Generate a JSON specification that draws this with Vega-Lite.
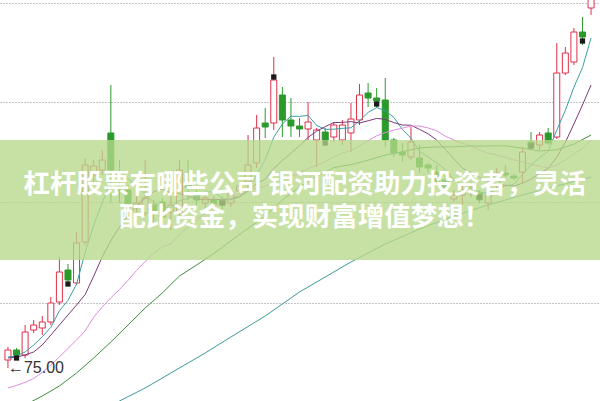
{
  "$schema": "https://vega.github.io/schema/vega-lite/v6.json",
  "width": 600,
  "height": 401,
  "autosize": {"type": "fit", "contains": "padding"},
  "padding": 0,
  "background": "#ffffff",
  "config": {"view": {"stroke": null}},
  "datasets": {
    "k": [
      {"i":0,"o":75.4,"h":76.05,"l":75.0,"c":75.9},
      {"i":1,"o":75.9,"h":76.0,"l":75.5,"c":75.65},
      {"i":2,"o":75.65,"h":77.15,"l":75.5,"c":76.8},
      {"i":3,"o":76.9,"h":77.4,"l":76.75,"c":77.15},
      {"i":4,"o":77.0,"h":77.6,"l":76.65,"c":77.3},
      {"i":5,"o":77.3,"h":78.55,"l":77.15,"c":78.25},
      {"i":6,"o":78.3,"h":80.55,"l":78.15,"c":79.8},
      {"i":7,"o":79.9,"h":80.2,"l":79.25,"c":79.4},
      {"i":8,"o":79.25,"h":81.8,"l":79.15,"c":81.25},
      {"i":9,"o":81.3,"h":85.5,"l":81.15,"c":85.15},
      {"i":10,"o":84.65,"h":85.4,"l":84.15,"c":85.1},
      {"i":11,"o":84.9,"h":85.9,"l":84.65,"c":85.4},
      {"i":12,"o":86.75,"h":89.15,"l":83.25,"c":84.9},
      {"i":13,"o":84.1,"h":85.4,"l":83.25,"c":83.85},
      {"i":14,"o":83.9,"h":84.15,"l":82.65,"c":83.05},
      {"i":15,"o":83.05,"h":83.6,"l":82.8,"c":83.25},
      {"i":16,"o":82.75,"h":85.4,"l":82.6,"c":83.5},
      {"i":17,"o":83.15,"h":83.4,"l":82.3,"c":82.75},
      {"i":18,"o":83.3,"h":83.5,"l":82.3,"c":82.55},
      {"i":19,"o":82.8,"h":83.65,"l":81.9,"c":83.15},
      {"i":20,"o":82.75,"h":85.4,"l":82.5,"c":84.9},
      {"i":21,"o":84.25,"h":85.4,"l":83.4,"c":84.05},
      {"i":22,"o":83.65,"h":83.9,"l":83.05,"c":83.4},
      {"i":23,"o":83.25,"h":83.7,"l":83.0,"c":83.5},
      {"i":24,"o":83.4,"h":83.6,"l":83.0,"c":83.2},
      {"i":25,"o":83.4,"h":83.6,"l":82.95,"c":83.15},
      {"i":26,"o":83.25,"h":84.0,"l":83.05,"c":83.8},
      {"i":27,"o":83.85,"h":84.3,"l":83.7,"c":84.1},
      {"i":28,"o":84.3,"h":86.65,"l":84.0,"c":85.15},
      {"i":29,"o":85.25,"h":87.65,"l":85.0,"c":87.0},
      {"i":30,"o":87.25,"h":88.0,"l":86.5,"c":87.05},
      {"i":31,"o":87.25,"h":90.55,"l":86.9,"c":89.4},
      {"i":32,"o":88.65,"h":89.05,"l":86.55,"c":87.4},
      {"i":33,"o":87.4,"h":88.5,"l":86.55,"c":87.1},
      {"i":34,"o":87.1,"h":87.5,"l":86.55,"c":86.95},
      {"i":35,"o":86.95,"h":88.3,"l":86.4,"c":87.3},
      {"i":36,"o":86.4,"h":87.0,"l":85.05,"c":86.9},
      {"i":37,"o":86.8,"h":87.0,"l":86.1,"c":86.4},
      {"i":38,"o":86.55,"h":87.3,"l":86.3,"c":87.15},
      {"i":39,"o":86.4,"h":87.4,"l":86.15,"c":87.15},
      {"i":40,"o":86.75,"h":88.25,"l":85.8,"c":87.45},
      {"i":41,"o":87.4,"h":89.2,"l":87.15,"c":88.65},
      {"i":42,"o":88.75,"h":89.25,"l":88.05,"c":88.5},
      {"i":43,"o":88.5,"h":89.0,"l":88.0,"c":88.35},
      {"i":44,"o":88.4,"h":89.5,"l":86.05,"c":86.4},
      {"i":45,"o":86.4,"h":86.5,"l":85.55,"c":85.75},
      {"i":46,"o":85.8,"h":86.25,"l":85.3,"c":85.65},
      {"i":47,"o":85.55,"h":87.05,"l":85.4,"c":86.3},
      {"i":48,"o":85.5,"h":86.15,"l":84.75,"c":85.05},
      {"i":49,"o":85.15,"h":85.25,"l":84.75,"c":85.0},
      {"i":50,"o":84.8,"h":85.15,"l":84.15,"c":84.3},
      {"i":51,"o":84.4,"h":84.65,"l":83.65,"c":84.0},
      {"i":52,"o":83.45,"h":83.9,"l":83.3,"c":83.65},
      {"i":53,"o":83.65,"h":84.15,"l":83.15,"c":83.9},
      {"i":54,"o":83.8,"h":84.3,"l":83.55,"c":84.05},
      {"i":55,"o":83.75,"h":83.9,"l":83.25,"c":83.4},
      {"i":56,"o":83.25,"h":84.0,"l":82.9,"c":83.65},
      {"i":57,"o":84.15,"h":85.0,"l":83.9,"c":84.75},
      {"i":58,"o":84.75,"h":85.15,"l":84.55,"c":84.65},
      {"i":59,"o":84.6,"h":84.7,"l":84.4,"c":84.5},
      {"i":60,"o":84.8,"h":86.05,"l":84.25,"c":85.8},
      {"i":61,"o":86.3,"h":86.8,"l":85.9,"c":86.0},
      {"i":62,"o":86.15,"h":86.8,"l":85.9,"c":86.65},
      {"i":63,"o":86.75,"h":87.0,"l":86.15,"c":86.25},
      {"i":64,"o":86.55,"h":91.25,"l":86.45,"c":89.75},
      {"i":65,"o":89.75,"h":91.05,"l":89.65,"c":90.75},
      {"i":66,"o":90.3,"h":92.0,"l":90.15,"c":91.8},
      {"i":67,"o":91.8,"h":92.55,"l":91.15,"c":91.55},
      {"i":68,"o":93.0,"h":94.4,"l":92.65,"c":93.65}
    ],
    "ma": [
      {"ma":"MA5","i":0,"v":75.55},{"ma":"MA5","i":1,"v":75.6},{"ma":"MA5","i":2,"v":75.8},{"ma":"MA5","i":3,"v":76.15},{"ma":"MA5","i":4,"v":76.56},{"ma":"MA5","i":5,"v":77.03},{"ma":"MA5","i":6,"v":77.86},{"ma":"MA5","i":7,"v":78.38},{"ma":"MA5","i":8,"v":79.2},{"ma":"MA5","i":9,"v":80.77},{"ma":"MA5","i":10,"v":82.14},{"ma":"MA5","i":11,"v":83.26},{"ma":"MA5","i":12,"v":84.36},{"ma":"MA5","i":13,"v":84.88},{"ma":"MA5","i":14,"v":84.46},{"ma":"MA5","i":15,"v":84.09},{"ma":"MA5","i":16,"v":83.71},{"ma":"MA5","i":17,"v":83.28},{"ma":"MA5","i":18,"v":83.02},{"ma":"MA5","i":19,"v":83.04},{"ma":"MA5","i":20,"v":83.37},{"ma":"MA5","i":21,"v":83.48},{"ma":"MA5","i":22,"v":83.61},{"ma":"MA5","i":23,"v":83.8},{"ma":"MA5","i":24,"v":83.81},{"ma":"MA5","i":25,"v":83.46},{"ma":"MA5","i":26,"v":83.41},{"ma":"MA5","i":27,"v":83.55},{"ma":"MA5","i":28,"v":83.88},{"ma":"MA5","i":29,"v":84.64},{"ma":"MA5","i":30,"v":85.42},{"ma":"MA5","i":31,"v":86.54},{"ma":"MA5","i":32,"v":87.2},{"ma":"MA5","i":33,"v":87.59},{"ma":"MA5","i":34,"v":87.58},{"ma":"MA5","i":35,"v":87.63},{"ma":"MA5","i":36,"v":87.13},{"ma":"MA5","i":37,"v":86.93},{"ma":"MA5","i":38,"v":86.94},{"ma":"MA5","i":39,"v":86.98},{"ma":"MA5","i":40,"v":87.01},{"ma":"MA5","i":41,"v":87.36},{"ma":"MA5","i":42,"v":87.78},{"ma":"MA5","i":43,"v":88.02},{"ma":"MA5","i":44,"v":87.87},{"ma":"MA5","i":45,"v":87.53},{"ma":"MA5","i":46,"v":86.93},{"ma":"MA5","i":47,"v":86.49},{"ma":"MA5","i":48,"v":85.83},{"ma":"MA5","i":49,"v":85.55},{"ma":"MA5","i":50,"v":85.26},{"ma":"MA5","i":51,"v":84.93},{"ma":"MA5","i":52,"v":84.4},{"ma":"MA5","i":53,"v":84.17},{"ma":"MA5","i":54,"v":83.98},{"ma":"MA5","i":55,"v":83.8},{"ma":"MA5","i":56,"v":83.73},{"ma":"MA5","i":57,"v":83.95},{"ma":"MA5","i":58,"v":84.1},{"ma":"MA5","i":59,"v":84.19},{"ma":"MA5","i":60,"v":84.67},{"ma":"MA5","i":61,"v":85.14},{"ma":"MA5","i":62,"v":85.52},{"ma":"MA5","i":63,"v":85.84},{"ma":"MA5","i":64,"v":86.89},{"ma":"MA5","i":65,"v":87.88},{"ma":"MA5","i":66,"v":89.04},{"ma":"MA5","i":67,"v":90.02},{"ma":"MA5","i":68,"v":91.5},
      {"ma":"MA10","i":0,"v":75.5},{"ma":"MA10","i":1,"v":75.55},{"ma":"MA10","i":2,"v":75.65},{"ma":"MA10","i":3,"v":75.8},{"ma":"MA10","i":4,"v":76.15},{"ma":"MA10","i":5,"v":76.65},{"ma":"MA10","i":6,"v":77.15},{"ma":"MA10","i":7,"v":77.65},{"ma":"MA10","i":8,"v":78.15},{"ma":"MA10","i":9,"v":78.67},{"ma":"MA10","i":10,"v":79.59},{"ma":"MA10","i":11,"v":80.56},{"ma":"MA10","i":12,"v":81.37},{"ma":"MA10","i":13,"v":82.04},{"ma":"MA10","i":14,"v":82.62},{"ma":"MA10","i":15,"v":83.12},{"ma":"MA10","i":16,"v":83.49},{"ma":"MA10","i":17,"v":83.82},{"ma":"MA10","i":18,"v":83.95},{"ma":"MA10","i":19,"v":83.75},{"ma":"MA10","i":20,"v":83.73},{"ma":"MA10","i":21,"v":83.6},{"ma":"MA10","i":22,"v":83.45},{"ma":"MA10","i":23,"v":83.41},{"ma":"MA10","i":24,"v":83.43},{"ma":"MA10","i":25,"v":83.42},{"ma":"MA10","i":26,"v":83.45},{"ma":"MA10","i":27,"v":83.58},{"ma":"MA10","i":28,"v":83.84},{"ma":"MA10","i":29,"v":84.23},{"ma":"MA10","i":30,"v":84.44},{"ma":"MA10","i":31,"v":84.98},{"ma":"MA10","i":32,"v":85.38},{"ma":"MA10","i":33,"v":85.74},{"ma":"MA10","i":34,"v":86.11},{"ma":"MA10","i":35,"v":86.53},{"ma":"MA10","i":36,"v":86.84},{"ma":"MA10","i":37,"v":87.07},{"ma":"MA10","i":38,"v":87.27},{"ma":"MA10","i":39,"v":87.28},{"ma":"MA10","i":40,"v":87.32},{"ma":"MA10","i":41,"v":87.25},{"ma":"MA10","i":42,"v":87.36},{"ma":"MA10","i":43,"v":87.48},{"ma":"MA10","i":44,"v":87.43},{"ma":"MA10","i":45,"v":87.27},{"ma":"MA10","i":46,"v":87.15},{"ma":"MA10","i":47,"v":87.14},{"ma":"MA10","i":48,"v":86.93},{"ma":"MA10","i":49,"v":86.71},{"ma":"MA10","i":50,"v":86.4},{"ma":"MA10","i":51,"v":85.93},{"ma":"MA10","i":52,"v":85.45},{"ma":"MA10","i":53,"v":85.0},{"ma":"MA10","i":54,"v":84.77},{"ma":"MA10","i":55,"v":84.53},{"ma":"MA10","i":56,"v":84.33},{"ma":"MA10","i":57,"v":84.18},{"ma":"MA10","i":58,"v":84.14},{"ma":"MA10","i":59,"v":84.09},{"ma":"MA10","i":60,"v":84.24},{"ma":"MA10","i":61,"v":84.44},{"ma":"MA10","i":62,"v":84.74},{"ma":"MA10","i":63,"v":84.97},{"ma":"MA10","i":64,"v":85.54},{"ma":"MA10","i":65,"v":86.28},{"ma":"MA10","i":66,"v":87.2},{"ma":"MA10","i":67,"v":88.15},{"ma":"MA10","i":68,"v":89.15},
      {"ma":"MA20","i":0,"v":74.0},{"ma":"MA20","i":1,"v":74.13},{"ma":"MA20","i":2,"v":74.28},{"ma":"MA20","i":3,"v":74.48},{"ma":"MA20","i":4,"v":74.78},{"ma":"MA20","i":5,"v":75.15},{"ma":"MA20","i":6,"v":75.55},{"ma":"MA20","i":7,"v":75.98},{"ma":"MA20","i":8,"v":76.4},{"ma":"MA20","i":9,"v":76.86},{"ma":"MA20","i":10,"v":77.54},{"ma":"MA20","i":11,"v":78.06},{"ma":"MA20","i":12,"v":78.51},{"ma":"MA20","i":13,"v":78.92},{"ma":"MA20","i":14,"v":79.38},{"ma":"MA20","i":15,"v":79.88},{"ma":"MA20","i":16,"v":80.32},{"ma":"MA20","i":17,"v":80.74},{"ma":"MA20","i":18,"v":81.05},{"ma":"MA20","i":19,"v":81.21},{"ma":"MA20","i":20,"v":81.66},{"ma":"MA20","i":21,"v":82.08},{"ma":"MA20","i":22,"v":82.41},{"ma":"MA20","i":23,"v":82.73},{"ma":"MA20","i":24,"v":83.02},{"ma":"MA20","i":25,"v":83.27},{"ma":"MA20","i":26,"v":83.47},{"ma":"MA20","i":27,"v":83.7},{"ma":"MA20","i":28,"v":83.9},{"ma":"MA20","i":29,"v":83.99},{"ma":"MA20","i":30,"v":84.09},{"ma":"MA20","i":31,"v":84.29},{"ma":"MA20","i":32,"v":84.41},{"ma":"MA20","i":33,"v":84.57},{"ma":"MA20","i":34,"v":84.77},{"ma":"MA20","i":35,"v":84.97},{"ma":"MA20","i":36,"v":85.14},{"ma":"MA20","i":37,"v":85.32},{"ma":"MA20","i":38,"v":85.55},{"ma":"MA20","i":39,"v":85.75},{"ma":"MA20","i":40,"v":85.88},{"ma":"MA20","i":41,"v":86.11},{"ma":"MA20","i":42,"v":86.37},{"ma":"MA20","i":43,"v":86.61},{"ma":"MA20","i":44,"v":86.77},{"ma":"MA20","i":45,"v":86.9},{"ma":"MA20","i":46,"v":86.99},{"ma":"MA20","i":47,"v":87.1},{"ma":"MA20","i":48,"v":87.1},{"ma":"MA20","i":49,"v":87.0},{"ma":"MA20","i":50,"v":86.86},{"ma":"MA20","i":51,"v":86.59},{"ma":"MA20","i":52,"v":86.4},{"ma":"MA20","i":53,"v":86.24},{"ma":"MA20","i":54,"v":86.1},{"ma":"MA20","i":55,"v":85.9},{"ma":"MA20","i":56,"v":85.74},{"ma":"MA20","i":57,"v":85.66},{"ma":"MA20","i":58,"v":85.53},{"ma":"MA20","i":59,"v":85.4},{"ma":"MA20","i":60,"v":85.32},{"ma":"MA20","i":61,"v":85.18},{"ma":"MA20","i":62,"v":85.09},{"ma":"MA20","i":63,"v":84.99},{"ma":"MA20","i":64,"v":85.15},{"ma":"MA20","i":65,"v":85.4},{"ma":"MA20","i":66,"v":85.71},{"ma":"MA20","i":67,"v":85.97},{"ma":"MA20","i":68,"v":86.4},
      {"ma":"MA30","i":0,"v":72.65},{"ma":"MA30","i":2,"v":73.15},{"ma":"MA30","i":4,"v":73.6},{"ma":"MA30","i":6,"v":74.1},{"ma":"MA30","i":8,"v":74.75},{"ma":"MA30","i":10,"v":75.5},{"ma":"MA30","i":12,"v":76.3},{"ma":"MA30","i":14,"v":77.15},{"ma":"MA30","i":16,"v":78.0},{"ma":"MA30","i":18,"v":78.75},{"ma":"MA30","i":20,"v":79.6},{"ma":"MA30","i":22,"v":80.15},{"ma":"MA30","i":24,"v":80.73},{"ma":"MA30","i":26,"v":81.36},{"ma":"MA30","i":28,"v":81.98},{"ma":"MA30","i":30,"v":82.59},{"ma":"MA30","i":32,"v":83.4},{"ma":"MA30","i":34,"v":84.05},{"ma":"MA30","i":36,"v":84.59},{"ma":"MA30","i":38,"v":85.02},{"ma":"MA30","i":40,"v":85.17},{"ma":"MA30","i":42,"v":85.39},{"ma":"MA30","i":44,"v":85.65},{"ma":"MA30","i":46,"v":85.81},{"ma":"MA30","i":48,"v":86.01},{"ma":"MA30","i":50,"v":86.05},{"ma":"MA30","i":52,"v":86.06},{"ma":"MA30","i":54,"v":86.1},{"ma":"MA30","i":56,"v":86.1},{"ma":"MA30","i":58,"v":86.11},{"ma":"MA30","i":60,"v":85.99},{"ma":"MA30","i":62,"v":85.85},{"ma":"MA30","i":64,"v":85.91},{"ma":"MA30","i":66,"v":86.19},{"ma":"MA30","i":68,"v":86.65},
      {"ma":"MA60","i":12,"v":73.1},{"ma":"MA60","i":13,"v":73.35},{"ma":"MA60","i":16,"v":74.0},{"ma":"MA60","i":20,"v":75.0},{"ma":"MA60","i":23,"v":75.75},{"ma":"MA60","i":26,"v":76.55},{"ma":"MA60","i":30,"v":77.6},{"ma":"MA60","i":34,"v":78.8},{"ma":"MA60","i":38,"v":79.8},{"ma":"MA60","i":40,"v":80.3},{"ma":"MA60","i":44,"v":81.2},{"ma":"MA60","i":48,"v":81.95},{"ma":"MA60","i":52,"v":82.6},{"ma":"MA60","i":56,"v":83.15},{"ma":"MA60","i":60,"v":83.65},{"ma":"MA60","i":64,"v":84.1},{"ma":"MA60","i":68,"v":84.55}
    ],
    "flags": [
      {"i":1,"v":75.5},{"i":7,"v":79.2},{"i":25,"v":83.25},{"i":31,"v":89.55},{"i":37,"v":86.25},{"i":43,"v":88.2},{"i":55,"v":83.55},{"i":61,"v":86.1},{"i":67,"v":91.35}
    ],
    "low": [{"i":0,"v":75.0,"label":"←75.00"}],
    "banner": [{"line1":"杠杆股票有哪些公司 银河配资助力投资者，灵活","line2":"配比资金，实现财富增值梦想！"}]
  },
  "layer": [
    {
      "data": {"name": "k"},
      "mark": {"type": "rule", "strokeWidth": 1, "clip": true},
      "encoding": {
        "x": {"field": "i", "type": "quantitative", "scale": {"domain": [-0.344, 68.46], "nice": false, "zero": false}, "axis": null},
        "y": {"field": "l", "type": "quantitative", "scale": {"domain": [73.35, 93.4], "nice": false, "zero": false},
              "axis": {"values": [78.27, 83.3, 88.28, 93.25], "grid": true, "gridDash": [1, 2], "gridColor": "#8a8a8a", "gridWidth": 1, "labels": false, "ticks": false, "domain": false, "title": null}},
        "y2": {"field": "h"},
        "color": {"condition": {"test": "datum.c >= datum.o", "value": "#e0304a"}, "value": "#2a9a2a"}
      }
    },
    {
      "data": {"name": "k"},
      "mark": {"type": "bar", "size": 6, "strokeWidth": 1, "clip": true},
      "encoding": {
        "x": {"field": "i", "type": "quantitative"},
        "y": {"field": "o", "type": "quantitative"},
        "y2": {"field": "c"},
        "fill": {"condition": {"test": "datum.c >= datum.o", "value": "#ffffff"}, "value": "#2a9a2a"},
        "stroke": {"condition": {"test": "datum.c >= datum.o", "value": "#e0304a"}, "value": "#2a9a2a"}
      }
    },
    {
      "data": {"name": "ma"},
      "mark": {"type": "line", "strokeWidth": 1, "clip": true},
      "encoding": {
        "x": {"field": "i", "type": "quantitative"},
        "y": {"field": "v", "type": "quantitative"},
        "color": {"field": "ma", "type": "nominal", "scale": {"domain": ["MA5", "MA10", "MA20", "MA30", "MA60"], "range": ["#3a9fa6", "#7a3a78", "#e08ce0", "#3f8f3a", "#3e9a98"]}, "legend": null}
      }
    },
    {
      "data": {"name": "flags"},
      "mark": {"type": "point", "shape": "square", "filled": true, "size": 28, "color": "#1a1a1a", "opacity": 1, "clip": true},
      "encoding": {
        "x": {"field": "i", "type": "quantitative"},
        "y": {"field": "v", "type": "quantitative"}
      }
    },
    {
      "data": {"name": "banner"},
      "mark": {"type": "rect", "color": "#b7d98c", "opacity": 0.78},
      "encoding": {
        "y": {"datum": 86.4, "type": "quantitative"},
        "y2": {"datum": 80.4}
      }
    },
    {
      "data": {"name": "banner"},
      "mark": {"type": "text", "font": "Noto Sans CJK SC", "fontWeight": "bold", "fontSize": 26.5, "color": "#ffffff", "align": "center", "baseline": "middle"},
      "encoding": {
        "x": {"datum": 34.6, "type": "quantitative"},
        "y": {"datum": 84.15, "type": "quantitative"},
        "text": {"field": "line1"}
      }
    },
    {
      "data": {"name": "banner"},
      "mark": {"type": "text", "font": "Noto Sans CJK SC", "fontWeight": "bold", "fontSize": 26.5, "color": "#ffffff", "align": "center", "baseline": "middle"},
      "encoding": {
        "x": {"datum": 34.6, "type": "quantitative"},
        "y": {"datum": 82.5, "type": "quantitative"},
        "text": {"field": "line2"}
      }
    },
    {
      "data": {"name": "low"},
      "mark": {"type": "text", "font": "Liberation Sans", "fontSize": 16, "color": "#333333", "align": "left", "baseline": "middle", "dx": 0},
      "encoding": {
        "x": {"field": "i", "type": "quantitative"},
        "y": {"field": "v", "type": "quantitative"},
        "text": {"field": "label"}
      }
    }
  ]
}
